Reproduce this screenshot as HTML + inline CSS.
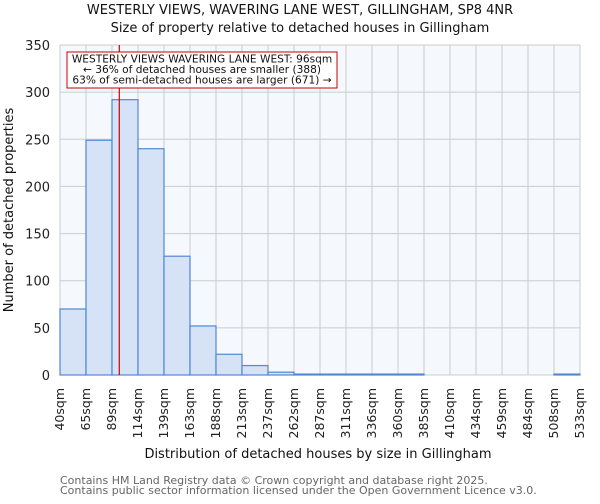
<!DOCTYPE html>
<html><head><meta charset="utf-8"><style>
body{margin:0;background:#fff;font-family:"DejaVu Sans","Liberation Sans",sans-serif}
svg text{font-family:"DejaVu Sans","Liberation Sans",sans-serif}
</style></head><body>
<svg id="c" width="600" height="500" xmlns="http://www.w3.org/2000/svg"></svg>
<script>
const binLabels=["40sqm","65sqm","89sqm","114sqm","139sqm","163sqm","188sqm","213sqm","237sqm","262sqm","287sqm","311sqm","336sqm","360sqm","385sqm","410sqm","434sqm","459sqm","484sqm","508sqm","533sqm"];
const counts=[70,249,292,240,126,52,22,10,3,1,1,1,1,1,0,0,0,0,0,1];
const yTicks=[0,50,100,150,200,250,300,350];
const edges=[40,65,89,114,139,163,188,213,237,262,287,311,336,360,385,410,434,459,484,508,533];
const marker=96;
const NS="http://www.w3.org/2000/svg";
const svg=document.getElementById('c');
const L=60,R=580,T=45,B=375,yMax=350;
const bw=(R-L)/counts.length;
const y=v=>B-(v/yMax)*(B-T);
const xi=i=>L+i*bw;
function xv(v){for(let i=0;i<edges.length-1;i++){if(v<=edges[i+1])return xi(i)+bw*(v-edges[i])/(edges[i+1]-edges[i]);}return R;}
function el(t,a,p){const e=document.createElementNS(NS,t);for(const k in a)e.setAttribute(k,a[k]);(p||svg).appendChild(e);return e;}
let e;
e=el('rect',{x:L,y:T,width:R-L,height:B-T,fill:'#f5f8fd'});


for(let i=0;i<=counts.length;i++){e=el('line',{x1:xi(i),x2:xi(i),y1:T,y2:B,stroke:'#cccccc','stroke-width':1});

}
yTicks.forEach(t=>{e=el('line',{x1:L,x2:R,y1:y(t),y2:y(t),stroke:'#cccccc','stroke-width':1});


e=el('text',{x:L-10,y:y(t)+5,'text-anchor':'end','font-size':13,fill:'#222'});e.textContent=t;

});
counts.forEach((c,i)=>{if(c<=0)return;e=el('rect',{x:xi(i),y:y(c),width:bw,height:B-y(c),fill:'#d6e2f5',stroke:'#4f88d6','stroke-width':1.2});

});
binLabels.forEach((l,i)=>{const x=xi(i)+4;e=el('text',{transform:`translate(${x},388) rotate(-90)`,'text-anchor':'end','font-size':12.5,fill:'#222'});e.textContent=l;

});
e=el('line',{x1:xv(marker),x2:xv(marker),y1:T,y2:B,stroke:'#cc0000','stroke-width':1.2});


const g=el('g',{});


el('rect',{x:67,y:52,width:270,height:36,fill:'#fff',stroke:'#cc0000','stroke-width':1},g);
["WESTERLY VIEWS WAVERING LANE WEST: 96sqm","← 36% of detached houses are smaller (388)","63% of semi-detached houses are larger (671) →"].forEach((t,i)=>{const tx=el('text',{x:202,y:62.5+i*10.5,'text-anchor':'middle','font-size':10.6,fill:'#111'},g);tx.textContent=t;});
e=el('text',{x:300,y:14,'text-anchor':'middle','font-size':13,fill:'#111'});e.textContent="WESTERLY VIEWS, WAVERING LANE WEST, GILLINGHAM, SP8 4NR";


e=el('text',{x:300,y:32,'text-anchor':'middle','font-size':13,fill:'#111'});e.textContent="Size of property relative to detached houses in Gillingham";


e=el('text',{x:318,y:458,'text-anchor':'middle','font-size':13,fill:'#111'});e.textContent="Distribution of detached houses by size in Gillingham";


e=el('text',{transform:'translate(13,210) rotate(-90)','text-anchor':'middle','font-size':13,fill:'#111'});e.textContent="Number of detached properties";


e=el('text',{x:60,y:484,'font-size':11,fill:'#666'});e.textContent="Contains HM Land Registry data © Crown copyright and database right 2025.";


e=el('text',{x:60,y:494,'font-size':11,fill:'#666'});e.textContent="Contains public sector information licensed under the Open Government Licence v3.0.";


</script>
</body></html>
